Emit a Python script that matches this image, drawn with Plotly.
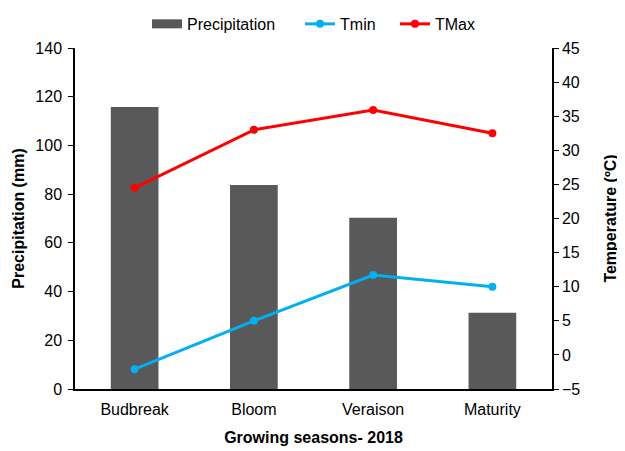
import plotly.graph_objects as go

categories = ["Budbreak", "Bloom", "Veraison", "Maturity"]
precipitation = [115.8, 83.8, 70.3, 31.3]
tmin = [-2.1, 5.0, 11.7, 10.0]
tmax = [24.5, 33.0, 35.9, 32.5]

font = "Liberation Sans, Arial, sans-serif"
FS = 16

fig = go.Figure()
fig.add_trace(go.Bar(x=categories, y=precipitation, name="Precipitation", showlegend=False,
                     marker=dict(color="#595959", line=dict(width=0)), width=0.4))
# legend proxy for the bar series (wide rectangle swatch)
fig.add_trace(go.Scatter(x=[None], y=[None], name="Precipitation", mode="lines",
                         line=dict(color="#595959", width=9), legend="legend"))
fig.add_trace(go.Scatter(x=categories, y=tmin, name="Tmin", yaxis="y2",
                         mode="lines+markers", line=dict(color="#00B0F0", width=3),
                         marker=dict(size=8, color="#00B0F0"), legend="legend2"))
fig.add_trace(go.Scatter(x=categories, y=tmax, name="TMax", yaxis="y2",
                         mode="lines+markers", line=dict(color="#FF0000", width=3),
                         marker=dict(size=8, color="#FF0000"), legend="legend3"))

def leg(x):
    return dict(orientation="h", x=x, xanchor="left", xref="container",
                y=0.964, yanchor="middle", yref="container",
                font=dict(size=FS), itemwidth=30, bgcolor="rgba(0,0,0,0)")

fig.update_layout(
    width=617, height=443,
    margin=dict(l=67, r=73, t=40, b=62, autoexpand=False),
    paper_bgcolor="white", plot_bgcolor="white",
    font=dict(family=font, size=FS, color="#000"),
    showlegend=True,
    legend=leg(0.2253),
    legend2=leg(0.4733),
    legend3=leg(0.6272),
    xaxis=dict(showline=True, linecolor="black", linewidth=1.5, ticks="",
               tickfont=dict(size=FS), ticklabelstandoff=5,
               title=dict(text="<b>Growing seasons- 2018</b>", font=dict(size=FS), standoff=15)),
    yaxis=dict(range=[0, 140], dtick=20, showline=True, linecolor="black", linewidth=1.5,
               ticks="outside", ticklen=5, tickcolor="black", showgrid=False, zeroline=False,
               tickfont=dict(size=FS), ticklabelstandoff=3,
               title=dict(text="<b>Precipitation (mm)</b>", font=dict(size=FS), standoff=7)),
    yaxis2=dict(range=[-5, 45], dtick=5, overlaying="y", side="right", showline=True,
                linecolor="black", linewidth=1.5, ticks="outside", ticklen=5, tickcolor="black",
                showgrid=False, zeroline=False, tickfont=dict(size=FS),
                title=dict(text="<b>Temperature (ºC)</b>", font=dict(size=FS), standoff=26)),
)

fig.write_html("out.html")
